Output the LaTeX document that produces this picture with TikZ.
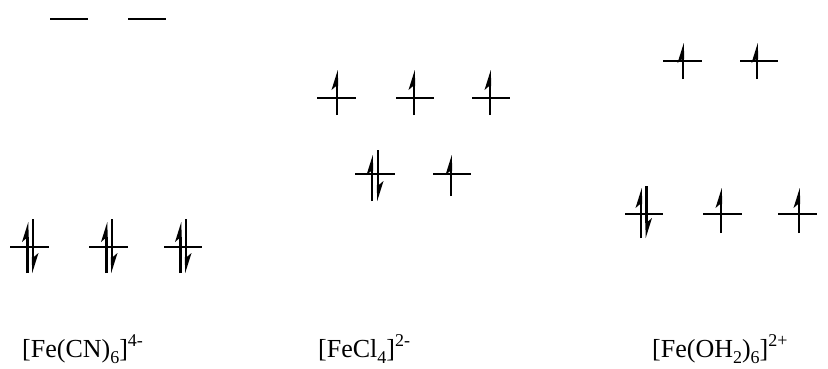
\documentclass[tikz,border=0pt]{standalone}
\usepackage{fontspec}
\setmainfont{Liberation Serif}
\tikzset{
  lvl/.style={line width=1.8pt},
  shaft/.style={line width=2.4pt},
  barb/.style={fill=black},
  lbl/.style={anchor=base west, inner sep=0pt, font=\fontsize{26}{30}\selectfont}
}
\newcommand{\lsub}[1]{\raisebox{-6pt}{\fontsize{18}{18}\selectfont #1}}
\newcommand{\lsup}[1]{\raisebox{11pt}{\fontsize{18}{18}\selectfont #1}}
% up arrow: x, tip y, bottom y
\newcommand{\spinup}[3]{%
  \draw[shaft] (#1,#3) -- (#1,#2+15);
  \fill[barb] (#1+0.8,#2) -- (#1-5.5,#2+20) -- (#1-0.8,#2+16) -- (#1+1.2,#2+16) -- cycle;}
% down arrow: x, top y, tip y
\newcommand{\spindn}[3]{%
  \draw[shaft] (#1,#2) -- (#1,#3-15);
  \fill[barb] (#1-0.8,#3) -- (#1+5.5,#3-20) -- (#1+0.8,#3-16) -- (#1-1.2,#3-16) -- cycle;}
\newcommand{\lev}[3]{\draw[lvl] (#1,#3) -- (#2,#3);}
\begin{document}
\begin{tikzpicture}[x=1pt,y=-1pt]
\useasboundingbox (0,0) rectangle (828,368);
% left column
\lev{50}{88}{19}
\lev{128}{166}{19}
\lev{10}{49}{247}
\lev{89}{128}{247}
\lev{164}{202}{247}
\spinup{27.5}{222}{273}\spindn{33}{219}{273}
\spinup{106.5}{222}{273}\spindn{112}{219}{273}
\spinup{180.5}{222}{273}\spindn{186}{219}{273}
% middle column
\lev{317}{356}{98}
\lev{396}{434}{98}
\lev{472}{510}{98}
\spinup{337}{70}{115}
\spinup{414}{70}{115}
\spinup{490}{70}{115}
\lev{355}{395}{174}
\lev{433}{471}{174}
\spinup{372}{155}{201}\spindn{378}{150}{201}
\spinup{451}{155}{196}
% right column
\lev{663}{702}{61}
\lev{740}{778}{61}
\spinup{683}{43}{79}
\spinup{757}{43}{79}
\lev{625}{663}{214}
\lev{703}{742}{214}
\lev{778}{817}{214}
\spinup{641}{188}{238}\spindn{646.5}{186}{238}
\spinup{721}{188}{233}
\spinup{799}{188}{233}
% labels
\node[lbl] (l1) at (22,357) {[Fe(CN)\lsub{6}]\lsup{4-}};
\node[lbl] (l2) at (318,357) {[FeCl\lsub{4}]\lsup{2-}};
\node[lbl] (l3) at (652,357) {[Fe(OH\lsub{2})\lsub{6}]\lsup{2+}};
\end{tikzpicture}
\end{document}
